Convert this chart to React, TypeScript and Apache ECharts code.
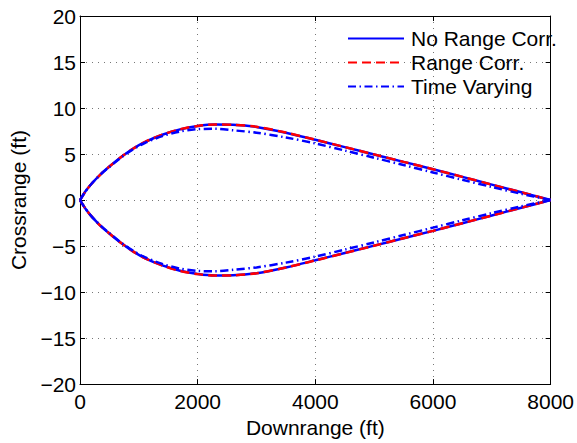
import React, { useEffect, useRef } from "react";
import * as echarts from "echarts";

// Downrange sample positions (ft)
const downrangeFt = [0, 100, 200, 350, 500, 700, 900, 1100, 1400, 1700, 2000, 2300, 2600, 3000, 3500, 4000, 4500, 5000, 5500, 6000, 6500, 7000, 7500, 8000];

// Crossrange (ft), upper and lower halves of each trajectory envelope
const noRangeUpper = [0, 1.0, 1.8, 2.8, 3.64, 4.68, 5.58, 6.3, 7.1, 7.68, 8.04, 8.2, 8.18, 7.95, 7.32, 6.55, 5.75, 4.95, 4.15, 3.35, 2.52, 1.68, 0.84, 0];
const noRangeLower = [0, -1.0, -1.8, -2.8, -3.64, -4.68, -5.58, -6.3, -7.1, -7.68, -8.04, -8.2, -8.18, -7.95, -7.32, -6.55, -5.75, -4.95, -4.15, -3.35, -2.52, -1.68, -0.84, 0];
const rangeCorrUpper = [0, 1.0, 1.8, 2.8, 3.64, 4.68, 5.58, 6.3, 7.11, 7.69, 8.05, 8.21, 8.18, 7.96, 7.33, 6.56, 5.76, 4.96, 4.15, 3.35, 2.52, 1.68, 0.84, 0];
const rangeCorrLower = [0, -1.0, -1.8, -2.8, -3.64, -4.68, -5.58, -6.3, -7.11, -7.69, -8.05, -8.21, -8.18, -7.96, -7.33, -6.56, -5.76, -4.96, -4.15, -3.35, -2.52, -1.68, -0.84, 0];
const timeVaryingUpper = [0, 1.0, 1.8, 2.78, 3.6, 4.63, 5.5, 6.2, 6.95, 7.45, 7.7, 7.74, 7.58, 7.32, 6.8, 6.15, 5.38, 4.6, 3.8, 3.0, 2.2, 1.42, 0.68, 0];
const timeVaryingLower = [0, -1.0, -1.8, -2.78, -3.6, -4.63, -5.5, -6.2, -6.95, -7.45, -7.7, -7.74, -7.58, -7.32, -6.8, -6.15, -5.38, -4.6, -3.8, -3.0, -2.2, -1.42, -0.68, 0];

const seriesNames = ["No Range Corr.", "Range Corr.", "Time Varying"];
const xTicks = { min: 0, max: 8000, interval: 2000 };
const yTicks = { min: -20, max: 20, interval: 5 };

const FONT = "'Liberation Sans', Arial, Helvetica, sans-serif";
const FS = 21;

function pts(ys: number[]) {
  return downrangeFt.map((x, i) => [x, ys[i]]);
}

export default function App() {
  const ref = useRef<HTMLDivElement>(null);
  useEffect(() => {
    if (!ref.current) return;
    const chart = echarts.init(ref.current, null, { renderer: "svg" });
    const blue = "#0000ff";
    const red = "#ff0000";
    const styles = [
      { color: blue, type: "solid" as any, z: 2 },
      { color: red, type: [9, 5] as any, z: 3 },
      { color: blue, type: [8, 3.5, 1.5, 3.5] as any, z: 4 },
    ];
    const halves = [
      [noRangeUpper, noRangeLower],
      [rangeCorrUpper, rangeCorrLower],
      [timeVaryingUpper, timeVaryingLower],
    ];
    const series: any[] = [];
    halves.forEach((pair, si) => {
      pair.forEach((ys) => {
        series.push({
          name: seriesNames[si],
          type: "line",
          data: pts(ys),
          smooth: 0.3,
          showSymbol: false,
          symbol: "none",
          z: styles[si].z,
          lineStyle: { color: styles[si].color, width: 2.5, type: styles[si].type },
          itemStyle: { color: styles[si].color },
          xAxisIndex: 0,
          yAxisIndex: 0,
        });
      });
    });
    const axisLine = { show: true, onZero: false, lineStyle: { color: "#000", width: 1 } };
    const tick = { show: true, inside: true, length: 5, lineStyle: { color: "#000" } };
    const fmt = (v: number) => String(v).replace("-", "\u2212");
    chart.setOption({
      animation: false,
      grid: { left: 80, right: 26, top: 16, bottom: 56, containLabel: false },
      legend: {
        data: seriesNames,
        orient: "vertical",
        left: 347,
        top: 28,
        padding: 0,
        itemWidth: 56,
        itemHeight: 14,
        itemGap: 3,
        selectedMode: false,
        itemStyle: { opacity: 0, borderWidth: 0 },
        textStyle: { fontFamily: FONT, fontSize: FS, color: "#000", lineHeight: 20, padding: [0, 0, 0, 2] },
      },
      xAxis: [
        {
          type: "value",
          min: xTicks.min,
          max: xTicks.max,
          interval: xTicks.interval,
          position: "bottom",
          axisLine,
          axisTick: tick,
          axisLabel: { fontFamily: FONT, fontSize: FS, color: "#000", margin: 7, formatter: fmt },
          splitLine: { show: true, lineStyle: { color: "#777", width: 1, type: [1, 5] } },
          name: "Downrange (ft)",
          nameLocation: "middle",
          nameGap: 27,
          nameTextStyle: { fontFamily: FONT, fontSize: FS, color: "#000" },
        },
        {
          type: "value",
          min: xTicks.min,
          max: xTicks.max,
          interval: xTicks.interval,
          position: "top",
          axisLine,
          axisTick: tick,
          axisLabel: { show: false },
          splitLine: { show: false },
        },
      ],
      yAxis: [
        {
          type: "value",
          min: yTicks.min,
          max: yTicks.max,
          interval: yTicks.interval,
          position: "left",
          axisLine,
          axisTick: tick,
          axisLabel: { fontFamily: FONT, fontSize: FS, color: "#000", margin: 4, formatter: fmt },
          splitLine: { show: true, lineStyle: { color: "#777", width: 1, type: [1, 5] } },
          name: "Crossrange (ft)",
          nameLocation: "middle",
          nameGap: 47,
          nameTextStyle: { fontFamily: FONT, fontSize: FS, color: "#000" },
        },
        {
          type: "value",
          min: yTicks.min,
          max: yTicks.max,
          interval: yTicks.interval,
          position: "right",
          axisLine,
          axisTick: tick,
          axisLabel: { show: false },
          splitLine: { show: false },
        },
      ],
      series,
    });
    return () => chart.dispose();
  }, []);
  return (
    <div
      ref={ref}
      style={{ position: "fixed", left: 0, top: 0, width: 577, height: 443, background: "#fff" }}
    />
  );
}
